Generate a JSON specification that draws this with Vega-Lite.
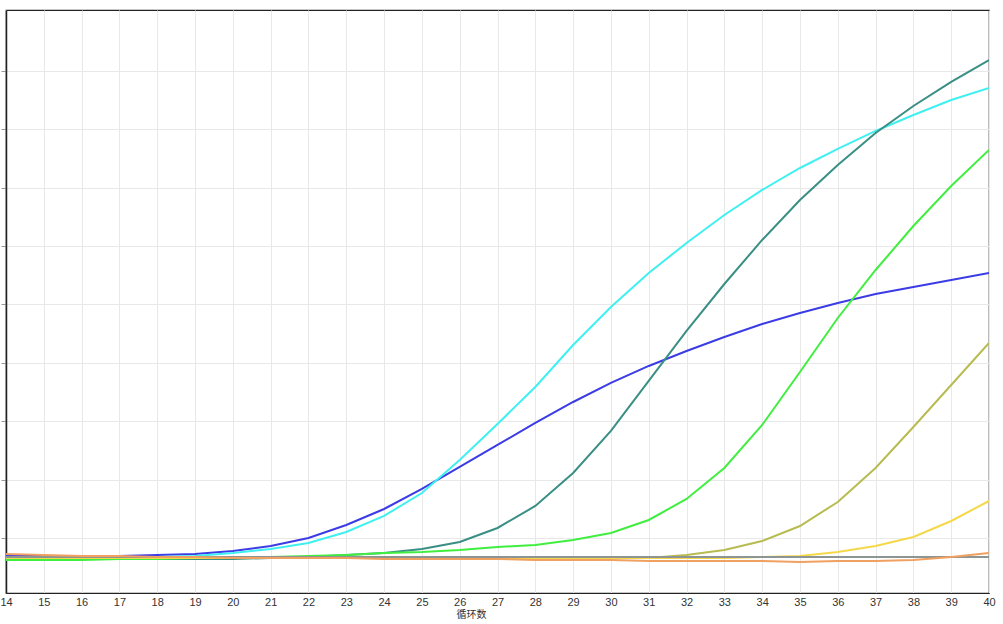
{
  "$schema": "https://vega.github.io/schema/vega-lite/v6.json",
  "width": 983,
  "height": 583,
  "autosize": {"type": "none"},
  "padding": {"left": 6, "top": 10, "right": 14, "bottom": 31},
  "background": "white",
  "config": {
    "view": {"stroke": "#222222", "strokeWidth": 1.2},
    "axis": {"gridColor": "#e8e8e8", "gridWidth": 1}
  },
  "datasets": {
    "curves": [
      {"s": "A", "c": 14, "v": -308}, {"s": "A", "c": 15, "v": -308}, {"s": "A", "c": 16, "v": -308}, {"s": "A", "c": 17, "v": -308}, {"s": "A", "c": 18, "v": -291}, {"s": "A", "c": 19, "v": -274}, {"s": "A", "c": 20, "v": -223}, {"s": "A", "c": 21, "v": -137}, {"s": "A", "c": 22, "v": 0}, {"s": "A", "c": 23, "v": 223}, {"s": "A", "c": 24, "v": 496}, {"s": "A", "c": 25, "v": 839}, {"s": "A", "c": 26, "v": 1216}, {"s": "A", "c": 27, "v": 1592}, {"s": "A", "c": 28, "v": 1969}, {"s": "A", "c": 29, "v": 2328}, {"s": "A", "c": 30, "v": 2654}, {"s": "A", "c": 31, "v": 2945}, {"s": "A", "c": 32, "v": 3201}, {"s": "A", "c": 33, "v": 3441}, {"s": "A", "c": 34, "v": 3664}, {"s": "A", "c": 35, "v": 3852}, {"s": "A", "c": 36, "v": 4023}, {"s": "A", "c": 37, "v": 4177}, {"s": "A", "c": 38, "v": 4297}, {"s": "A", "c": 39, "v": 4417}, {"s": "A", "c": 40, "v": 4537},

      {"s": "B", "c": 14, "v": -325}, {"s": "B", "c": 15, "v": -325}, {"s": "B", "c": 16, "v": -325}, {"s": "B", "c": 17, "v": -325}, {"s": "B", "c": 18, "v": -325}, {"s": "B", "c": 19, "v": -308}, {"s": "B", "c": 20, "v": -257}, {"s": "B", "c": 21, "v": -188}, {"s": "B", "c": 22, "v": -86}, {"s": "B", "c": 23, "v": 103}, {"s": "B", "c": 24, "v": 377}, {"s": "B", "c": 25, "v": 770}, {"s": "B", "c": 26, "v": 1335}, {"s": "B", "c": 27, "v": 1952}, {"s": "B", "c": 28, "v": 2585}, {"s": "B", "c": 29, "v": 3304}, {"s": "B", "c": 30, "v": 3955}, {"s": "B", "c": 31, "v": 4537}, {"s": "B", "c": 32, "v": 5050}, {"s": "B", "c": 33, "v": 5530}, {"s": "B", "c": 34, "v": 5958}, {"s": "B", "c": 35, "v": 6334}, {"s": "B", "c": 36, "v": 6660}, {"s": "B", "c": 37, "v": 6968}, {"s": "B", "c": 38, "v": 7242}, {"s": "B", "c": 39, "v": 7499}, {"s": "B", "c": 40, "v": 7704},

      {"s": "C", "c": 14, "v": -360}, {"s": "C", "c": 15, "v": -360}, {"s": "C", "c": 16, "v": -360}, {"s": "C", "c": 17, "v": -360}, {"s": "C", "c": 18, "v": -360}, {"s": "C", "c": 19, "v": -360}, {"s": "C", "c": 20, "v": -360}, {"s": "C", "c": 21, "v": -342}, {"s": "C", "c": 22, "v": -325}, {"s": "C", "c": 23, "v": -291}, {"s": "C", "c": 24, "v": -257}, {"s": "C", "c": 25, "v": -188}, {"s": "C", "c": 26, "v": -68}, {"s": "C", "c": 27, "v": 171}, {"s": "C", "c": 28, "v": 548}, {"s": "C", "c": 29, "v": 1113}, {"s": "C", "c": 30, "v": 1832}, {"s": "C", "c": 31, "v": 2688}, {"s": "C", "c": 32, "v": 3544}, {"s": "C", "c": 33, "v": 4348}, {"s": "C", "c": 34, "v": 5102}, {"s": "C", "c": 35, "v": 5787}, {"s": "C", "c": 36, "v": 6386}, {"s": "C", "c": 37, "v": 6934}, {"s": "C", "c": 38, "v": 7396}, {"s": "C", "c": 39, "v": 7807}, {"s": "C", "c": 40, "v": 8183},

      {"s": "D", "c": 14, "v": -377}, {"s": "D", "c": 15, "v": -377}, {"s": "D", "c": 16, "v": -377}, {"s": "D", "c": 17, "v": -360}, {"s": "D", "c": 18, "v": -360}, {"s": "D", "c": 19, "v": -342}, {"s": "D", "c": 20, "v": -342}, {"s": "D", "c": 21, "v": -325}, {"s": "D", "c": 22, "v": -308}, {"s": "D", "c": 23, "v": -291}, {"s": "D", "c": 24, "v": -257}, {"s": "D", "c": 25, "v": -240}, {"s": "D", "c": 26, "v": -205}, {"s": "D", "c": 27, "v": -154}, {"s": "D", "c": 28, "v": -120}, {"s": "D", "c": 29, "v": -34}, {"s": "D", "c": 30, "v": 86}, {"s": "D", "c": 31, "v": 308}, {"s": "D", "c": 32, "v": 668}, {"s": "D", "c": 33, "v": 1198}, {"s": "D", "c": 34, "v": 1935}, {"s": "D", "c": 35, "v": 2842}, {"s": "D", "c": 36, "v": 3766}, {"s": "D", "c": 37, "v": 4588}, {"s": "D", "c": 38, "v": 5341}, {"s": "D", "c": 39, "v": 6026}, {"s": "D", "c": 40, "v": 6643},

      {"s": "E", "c": 14, "v": -342}, {"s": "E", "c": 15, "v": -342}, {"s": "E", "c": 16, "v": -342}, {"s": "E", "c": 17, "v": -342}, {"s": "E", "c": 18, "v": -342}, {"s": "E", "c": 19, "v": -342}, {"s": "E", "c": 20, "v": -342}, {"s": "E", "c": 21, "v": -342}, {"s": "E", "c": 22, "v": -342}, {"s": "E", "c": 23, "v": -342}, {"s": "E", "c": 24, "v": -342}, {"s": "E", "c": 25, "v": -342}, {"s": "E", "c": 26, "v": -342}, {"s": "E", "c": 27, "v": -342}, {"s": "E", "c": 28, "v": -342}, {"s": "E", "c": 29, "v": -342}, {"s": "E", "c": 30, "v": -342}, {"s": "E", "c": 31, "v": -342}, {"s": "E", "c": 32, "v": -291}, {"s": "E", "c": 33, "v": -205}, {"s": "E", "c": 34, "v": -51}, {"s": "E", "c": 35, "v": 205}, {"s": "E", "c": 36, "v": 616}, {"s": "E", "c": 37, "v": 1198}, {"s": "E", "c": 38, "v": 1900}, {"s": "E", "c": 39, "v": 2619}, {"s": "E", "c": 40, "v": 3338},

      {"s": "F", "c": 14, "v": -342}, {"s": "F", "c": 15, "v": -342}, {"s": "F", "c": 16, "v": -342}, {"s": "F", "c": 17, "v": -342}, {"s": "F", "c": 18, "v": -342}, {"s": "F", "c": 19, "v": -342}, {"s": "F", "c": 20, "v": -342}, {"s": "F", "c": 21, "v": -342}, {"s": "F", "c": 22, "v": -342}, {"s": "F", "c": 23, "v": -342}, {"s": "F", "c": 24, "v": -342}, {"s": "F", "c": 25, "v": -342}, {"s": "F", "c": 26, "v": -342}, {"s": "F", "c": 27, "v": -342}, {"s": "F", "c": 28, "v": -342}, {"s": "F", "c": 29, "v": -342}, {"s": "F", "c": 30, "v": -342}, {"s": "F", "c": 31, "v": -342}, {"s": "F", "c": 32, "v": -342}, {"s": "F", "c": 33, "v": -342}, {"s": "F", "c": 34, "v": -325}, {"s": "F", "c": 35, "v": -308}, {"s": "F", "c": 36, "v": -240}, {"s": "F", "c": 37, "v": -137}, {"s": "F", "c": 38, "v": 17}, {"s": "F", "c": 39, "v": 291}, {"s": "F", "c": 40, "v": 633},

      {"s": "G", "c": 14, "v": -325}, {"s": "G", "c": 15, "v": -325}, {"s": "G", "c": 16, "v": -325}, {"s": "G", "c": 17, "v": -325}, {"s": "G", "c": 18, "v": -325}, {"s": "G", "c": 19, "v": -325}, {"s": "G", "c": 20, "v": -325}, {"s": "G", "c": 21, "v": -325}, {"s": "G", "c": 22, "v": -325}, {"s": "G", "c": 23, "v": -325}, {"s": "G", "c": 24, "v": -325}, {"s": "G", "c": 25, "v": -325}, {"s": "G", "c": 26, "v": -325}, {"s": "G", "c": 27, "v": -325}, {"s": "G", "c": 28, "v": -325}, {"s": "G", "c": 29, "v": -325}, {"s": "G", "c": 30, "v": -325}, {"s": "G", "c": 31, "v": -325}, {"s": "G", "c": 32, "v": -325}, {"s": "G", "c": 33, "v": -325}, {"s": "G", "c": 34, "v": -325}, {"s": "G", "c": 35, "v": -325}, {"s": "G", "c": 36, "v": -325}, {"s": "G", "c": 37, "v": -325}, {"s": "G", "c": 38, "v": -325}, {"s": "G", "c": 39, "v": -325}, {"s": "G", "c": 40, "v": -325},

      {"s": "H", "c": 14, "v": -274}, {"s": "H", "c": 15, "v": -291}, {"s": "H", "c": 16, "v": -308}, {"s": "H", "c": 17, "v": -308}, {"s": "H", "c": 18, "v": -325}, {"s": "H", "c": 19, "v": -325}, {"s": "H", "c": 20, "v": -342}, {"s": "H", "c": 21, "v": -342}, {"s": "H", "c": 22, "v": -342}, {"s": "H", "c": 23, "v": -342}, {"s": "H", "c": 24, "v": -360}, {"s": "H", "c": 25, "v": -360}, {"s": "H", "c": 26, "v": -360}, {"s": "H", "c": 27, "v": -360}, {"s": "H", "c": 28, "v": -377}, {"s": "H", "c": 29, "v": -377}, {"s": "H", "c": 30, "v": -377}, {"s": "H", "c": 31, "v": -394}, {"s": "H", "c": 32, "v": -394}, {"s": "H", "c": 33, "v": -394}, {"s": "H", "c": 34, "v": -394}, {"s": "H", "c": 35, "v": -411}, {"s": "H", "c": 36, "v": -394}, {"s": "H", "c": 37, "v": -394}, {"s": "H", "c": 38, "v": -377}, {"s": "H", "c": 39, "v": -325}, {"s": "H", "c": 40, "v": -257}
    ]
  },
  "data": {"name": "curves"},
  "mark": {"type": "line", "strokeWidth": 2, "clip": true},
  "encoding": {
    "x": {
      "field": "c",
      "type": "quantitative",
      "scale": {"domain": [14, 40], "nice": false, "zero": false},
      "axis": {
        "values": [14, 15, 16, 17, 18, 19, 20, 21, 22, 23, 24, 25, 26, 27, 28, 29, 30, 31, 32, 33, 34, 35, 36, 37, 38, 39, 40],
        "title": "循环数",
        "titleFont": "Noto Sans CJK SC",
        "titleFontSize": 10,
        "titleFontWeight": "normal",
        "titleColor": "#333333",
        "titlePadding": 0,
        "titleX": 465,
        "titleY": 16,
        "labelFont": "Liberation Sans",
        "labelFontSize": 11,
        "labelColor": "#333333",
        "labelPadding": 3,
        "labelFlush": false,
        "ticks": false,
        "domainColor": "#222222",
        "domainWidth": 1.2,
        "grid": true
      }
    },
    "y": {
      "field": "v",
      "type": "quantitative",
      "scale": {"domain": [-942, 9039], "nice": false, "zero": false},
      "axis": {
        "values": [0, 1000, 2000, 3000, 4000, 5000, 6000, 7000, 8000],
        "labels": false,
        "title": null,
        "ticks": true,
        "tickSize": 5,
        "tickColor": "#999999",
        "domainColor": "#222222",
        "domainWidth": 1.5,
        "grid": true
      }
    },
    "color": {
      "field": "s",
      "type": "nominal",
      "legend": null,
      "scale": {
        "domain": ["H", "G", "F", "E", "D", "C", "B", "A"],
        "range": ["#f0a060", "#8c9494", "#f5d84a", "#b8bb50", "#40ee40", "#3a8f84", "#40f0f0", "#3c3ce6"]
      }
    }
  }
}
